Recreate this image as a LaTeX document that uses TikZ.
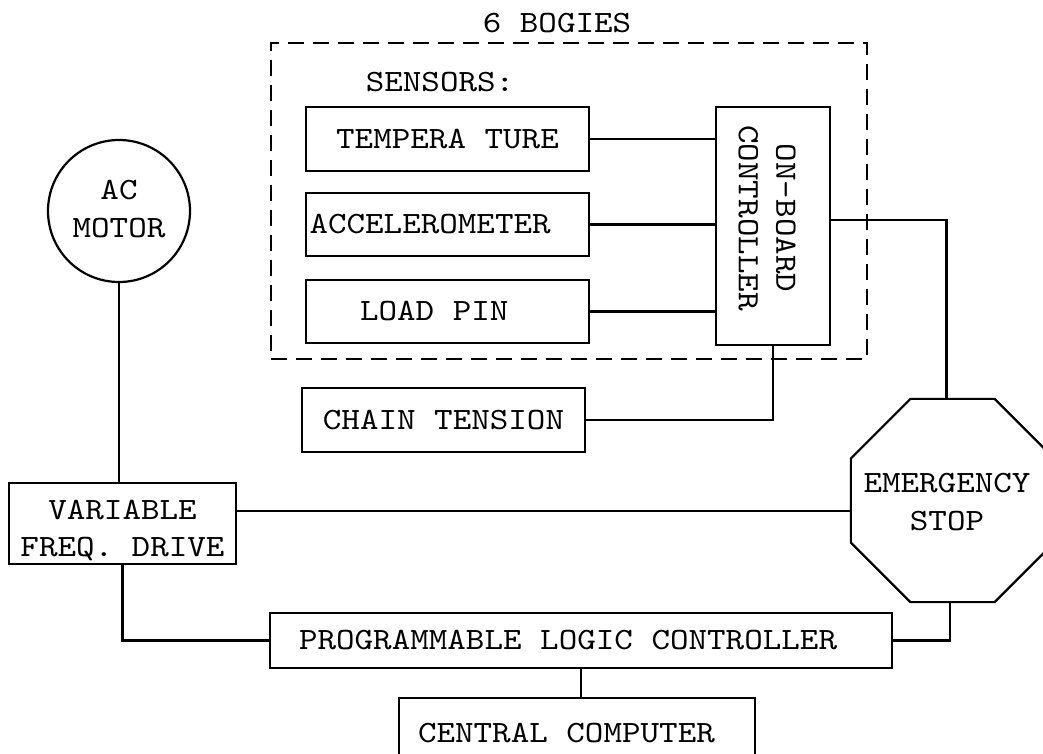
\documentclass[tikz,border=0pt]{standalone}
\usepackage{fontspec}
\setmainfont{lmmono10-regular.otf}[FakeStretch=1.14]
\usepackage{graphicx}
\usetikzlibrary{shapes.geometric}
\begin{document}
\begin{tikzpicture}[x=1pt,y=-1pt,
  every node/.style={font=\fontsize{31}{37.5}\selectfont},
  box/.style={draw, rectangle, line width=2.2pt, inner sep=0pt, align=center},
  wire/.style={line width=2.2pt},
  octagon/.style={draw, regular polygon, regular polygon sides=8, line width=2.2pt, inner sep=0pt},
  group/.style={draw, rectangle, line width=2.5pt, dash pattern=on 16pt off 9pt, inner sep=0pt}]
\useasboundingbox (0,0) rectangle (1043,753);

% group frame and labels
\node[group, minimum width=596pt, minimum height=316pt] (bogies) at (569,201) {};
\node (bogieslabel) at (557,23) {6 BOGIES};
\node (sensors) at (440,82) {SENSORS:};

% sensor boxes
\node[box, minimum width=283pt, minimum height=64pt] (temp) at (447.5,139) {TEMPERA TURE};
\node[box, minimum height=63pt, inner xsep=3.5pt] (accel) at (447.5,224.5) {\makebox[276pt][l]{ACCELEROMETER}};
\node[box, minimum height=63pt, inner xsep=54pt] (loadpin) at (447.5,311.5) {\makebox[175pt][l]{LOAD PIN}};
\node[box, minimum width=283pt, minimum height=64pt] (chain) at (443.5,420) {CHAIN TENSION};

% on-board controller
\node[box, minimum width=114pt, minimum height=238pt] (onboard) at (773,226)
  {\rotatebox{-90}{\raisebox{-8pt}[\height][\depth]{\begin{tabular}{@{}c@{}}ON-BOARD\\CONTROLLER\end{tabular}}\hspace{16pt}}};

% motor, drive, stop, plc, computer
\node[draw, circle, line width=2.2pt, minimum size=142pt, inner sep=0pt] (motor) at (119,211)
  {\begin{tabular}{@{}c@{}}AC\\MOTOR\end{tabular}\hspace{14pt}};
\node[box, minimum width=227pt, minimum height=81pt] (vfd) at (122.5,523.5)
  {\raisebox{-7pt}[\height][\depth]{\begin{tabular}{@{}c@{}}VARIABLE\\FREQ. DRIVE\end{tabular}}};
\node[octagon, minimum size=220pt] (estop) at (952.5,500.5) {};
\node[align=center] (estoptext) at (947,502) {EMERGENCY\\STOP};
\node[box, minimum height=55pt, inner xsep=29pt] (plc) at (581,640.5) {\makebox[564pt][l]{PROGRAMMABLE LOGIC CONTROLLER}};
\node[box, minimum height=70pt, inner xsep=19pt] (cc) at (577,733) {\makebox[318pt][l]{CENTRAL COMPUTER}};

% connectors
\draw[wire] (temp.east) -- (temp.east -| onboard.west);
\draw[wire] (accel.east) -- (accel.east -| onboard.west);
\draw[wire] (loadpin.east) -- (loadpin.east -| onboard.west);
\coordinate (obout) at ([yshift=6pt]onboard.east);
\coordinate (esin) at ([xshift=-6pt]estop.north);
\draw[wire] (obout) -| (esin);
\draw[wire] (onboard.south) |- (chain.east);
\draw[wire] (motor.south) -- (motor.south |- vfd.north);
\coordinate (vfdout) at ([yshift=12.5pt]vfd.east);
\draw[wire] (vfdout) -- (vfdout -| estop.west);
\draw[wire] (vfd.south) |- (plc.west);
\coordinate (esout) at ([xshift=-2.5pt]estop.south);
\draw[wire] (plc.east) -| (esout);
\draw[wire] (plc.south) -- (plc.south |- cc.north);
\end{tikzpicture}
\end{document}
